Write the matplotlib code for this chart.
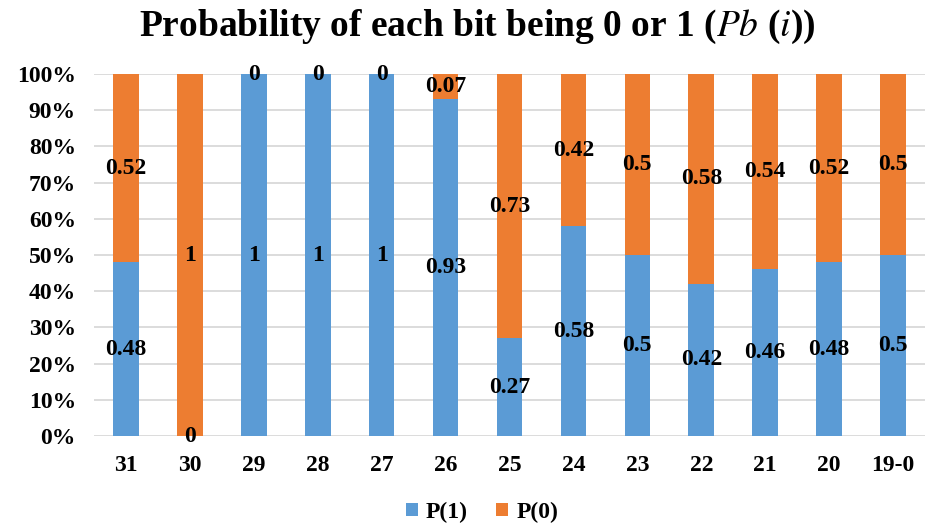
import matplotlib
matplotlib.use("Agg")
import matplotlib.pyplot as plt
import numpy as np

categories = ["31", "30", "29", "28", "27", "26", "25", "24", "23", "22", "21", "20", "19-0"]
p1 = [0.48, 0, 1, 1, 1, 0.93, 0.27, 0.58, 0.5, 0.42, 0.46, 0.48, 0.5]
p0 = [0.52, 1, 0, 0, 0, 0.07, 0.73, 0.42, 0.5, 0.58, 0.54, 0.52, 0.5]
p1_labels = ["0.48", "0", "1", "1", "1", "0.93", "0.27", "0.58", "0.5", "0.42", "0.46", "0.48", "0.5"]
p0_labels = ["0.52", "1", "0", "0", "0", "0.07", "0.73", "0.42", "0.5", "0.58", "0.54", "0.52", "0.5"]
yticks = [0, 0.1, 0.2, 0.3, 0.4, 0.5, 0.6, 0.7, 0.8, 0.9, 1.0]
ytick_labels = ["0%", "10%", "20%", "30%", "40%", "50%", "60%", "70%", "80%", "90%", "100%"]

plt.rcParams['font.family'] = ['Liberation Serif', 'DejaVu Serif']
plt.rcParams['mathtext.fontset'] = 'stix'

fig = plt.figure(figsize=(9.25, 5.31), dpi=100)
ax = fig.add_axes([0.1016, 0.1789, 0.8984, 0.6817])

blue = "#5B9BD5"
orange = "#ED7D31"
x = np.arange(len(categories))
w = 0.4
b1 = ax.bar(x, p1, w, color=blue, label="P(1)", zorder=2)
b0 = ax.bar(x, p0, w, bottom=p1, color=orange, label="P(0)", zorder=2)

for xi, v1, v0, l1, l0 in zip(x, p1, p0, p1_labels, p0_labels):
    ax.text(xi, v1 / 2, l1, ha="center", va="center", fontsize=17, fontweight="bold", zorder=3)
    ax.text(xi, v1 + v0 / 2, l0, ha="center", va="center", fontsize=17, fontweight="bold", zorder=3)

ax.set_xlim(-0.5, len(categories) - 0.5)
ax.set_ylim(0, 1)
ax.set_yticks(yticks)
ax.set_yticklabels(ytick_labels, fontsize=17, fontweight="bold")
ax.set_xticks(x)
ax.set_xticklabels(categories, fontsize=17, fontweight="bold")
ax.yaxis.grid(True, color="#D9D9D9", linewidth=1.3, zorder=0)
ax.set_axisbelow(True)
for s in ax.spines.values():
    s.set_visible(False)
ax.tick_params(axis="both", length=0)
ax.tick_params(axis="y", pad=13)
ax.tick_params(axis="x", pad=14)

fig.suptitle("Probability of each bit being 0 or 1 ($Pb$ ($i$))", fontsize=27, fontweight="bold", y=0.985, x=0.516)

leg = fig.legend(handles=[b1, b0], labels=["P(1)", "P(0)"], loc="lower center", ncol=2, frameon=False,
                 bbox_to_anchor=(0.521, -0.025), prop={"size": 17, "weight": "bold"},
                 handlelength=0.5, handleheight=0.5, handletextpad=0.35, columnspacing=1.2)

fig.savefig("out.png", dpi=100)
